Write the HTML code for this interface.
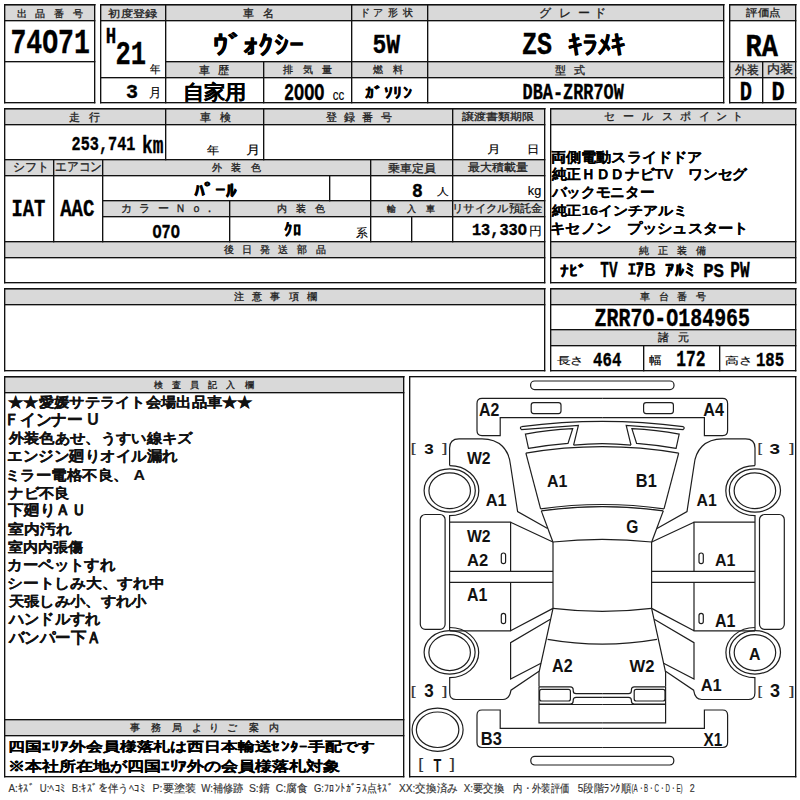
<!DOCTYPE html>
<html><head><meta charset="utf-8"><style>
html,body{margin:0;padding:0;background:#fff;width:800px;height:800px;overflow:hidden}
svg{display:block;font-family:"Liberation Sans",sans-serif}
</style></head><body>
<svg width="800" height="800" viewBox="0 0 800 800">
<g>
<rect x="4" y="4" width="90" height="16" fill="#d9d9d9"/>
<rect x="100" y="4" width="623" height="16" fill="#d9d9d9"/>
<rect x="165" y="61" width="558" height="16" fill="#d9d9d9"/>
<rect x="729" y="4" width="66" height="16" fill="#d9d9d9"/>
<rect x="729" y="61" width="66" height="16" fill="#d9d9d9"/>
<rect x="4" y="108" width="540" height="16" fill="#d9d9d9"/>
<rect x="4" y="159" width="540" height="16" fill="#d9d9d9"/>
<rect x="102" y="200" width="442" height="16" fill="#d9d9d9"/>
<rect x="4" y="241" width="540" height="16" fill="#d9d9d9"/>
<rect x="550" y="108" width="245" height="16" fill="#d9d9d9"/>
<rect x="550" y="241" width="245" height="16" fill="#d9d9d9"/>
<rect x="4" y="288" width="540" height="16" fill="#d9d9d9"/>
<rect x="550" y="288" width="245" height="16" fill="#d9d9d9"/>
<rect x="550" y="329" width="245" height="16" fill="#d9d9d9"/>
<rect x="4" y="376" width="399" height="16" fill="#d9d9d9"/>
<rect x="4" y="719" width="399" height="16" fill="#d9d9d9"/>
<rect x="4" y="4" width="91.35" height="1.35" fill="#111"/>
<rect x="4" y="102" width="91.35" height="1.35" fill="#111"/>
<rect x="4" y="4" width="91.35" height="1.35" fill="#111"/>
<rect x="4" y="20" width="91.35" height="1.35" fill="#111"/>
<rect x="4" y="61" width="91.35" height="1.35" fill="#111"/>
<rect x="100" y="4" width="624.35" height="1.35" fill="#111"/>
<rect x="100" y="102" width="624.35" height="1.35" fill="#111"/>
<rect x="100" y="4" width="624.35" height="1.35" fill="#111"/>
<rect x="100" y="20" width="624.35" height="1.35" fill="#111"/>
<rect x="165" y="61" width="559.35" height="1.35" fill="#111"/>
<rect x="165" y="77" width="559.35" height="1.35" fill="#111"/>
<rect x="100" y="77" width="66.35" height="1.35" fill="#111"/>
<rect x="729" y="4" width="67.35" height="1.35" fill="#111"/>
<rect x="729" y="102" width="67.35" height="1.35" fill="#111"/>
<rect x="729" y="4" width="67.35" height="1.35" fill="#111"/>
<rect x="729" y="20" width="67.35" height="1.35" fill="#111"/>
<rect x="729" y="61" width="67.35" height="1.35" fill="#111"/>
<rect x="729" y="77" width="67.35" height="1.35" fill="#111"/>
<rect x="4" y="108" width="541.35" height="1.35" fill="#111"/>
<rect x="4" y="282" width="541.35" height="1.35" fill="#111"/>
<rect x="4" y="108" width="541.35" height="1.35" fill="#111"/>
<rect x="4" y="124" width="541.35" height="1.35" fill="#111"/>
<rect x="4" y="159" width="541.35" height="1.35" fill="#111"/>
<rect x="4" y="175" width="541.35" height="1.35" fill="#111"/>
<rect x="102" y="200" width="443.35" height="1.35" fill="#111"/>
<rect x="102" y="216" width="443.35" height="1.35" fill="#111"/>
<rect x="4" y="241" width="541.35" height="1.35" fill="#111"/>
<rect x="4" y="257" width="541.35" height="1.35" fill="#111"/>
<rect x="550" y="108" width="246.35" height="1.35" fill="#111"/>
<rect x="550" y="282" width="246.35" height="1.35" fill="#111"/>
<rect x="550" y="108" width="246.35" height="1.35" fill="#111"/>
<rect x="550" y="124" width="246.35" height="1.35" fill="#111"/>
<rect x="550" y="241" width="246.35" height="1.35" fill="#111"/>
<rect x="550" y="257" width="246.35" height="1.35" fill="#111"/>
<rect x="4" y="288" width="541.35" height="1.35" fill="#111"/>
<rect x="4" y="370" width="541.35" height="1.35" fill="#111"/>
<rect x="4" y="288" width="541.35" height="1.35" fill="#111"/>
<rect x="4" y="304" width="541.35" height="1.35" fill="#111"/>
<rect x="550" y="288" width="246.35" height="1.35" fill="#111"/>
<rect x="550" y="370" width="246.35" height="1.35" fill="#111"/>
<rect x="550" y="288" width="246.35" height="1.35" fill="#111"/>
<rect x="550" y="304" width="246.35" height="1.35" fill="#111"/>
<rect x="550" y="329" width="246.35" height="1.35" fill="#111"/>
<rect x="550" y="345" width="246.35" height="1.35" fill="#111"/>
<rect x="4" y="376" width="400.35" height="1.35" fill="#111"/>
<rect x="4" y="776" width="400.35" height="1.35" fill="#111"/>
<rect x="4" y="376" width="400.35" height="1.35" fill="#111"/>
<rect x="4" y="392" width="400.35" height="1.35" fill="#111"/>
<rect x="4" y="719" width="400.35" height="1.35" fill="#111"/>
<rect x="4" y="735" width="400.35" height="1.35" fill="#111"/>
<rect x="409" y="376" width="387.35" height="1.35" fill="#111"/>
<rect x="409" y="776" width="387.35" height="1.35" fill="#111"/>
<rect x="4" y="4" width="1.35" height="99.35" fill="#111"/>
<rect x="94" y="4" width="1.35" height="99.35" fill="#111"/>
<rect x="100" y="4" width="1.35" height="99.35" fill="#111"/>
<rect x="723" y="4" width="1.35" height="99.35" fill="#111"/>
<rect x="165" y="4" width="1.35" height="99.35" fill="#111"/>
<rect x="351" y="4" width="1.35" height="99.35" fill="#111"/>
<rect x="427" y="4" width="1.35" height="99.35" fill="#111"/>
<rect x="263" y="61" width="1.35" height="42.35" fill="#111"/>
<rect x="729" y="4" width="1.35" height="99.35" fill="#111"/>
<rect x="795" y="4" width="1.35" height="99.35" fill="#111"/>
<rect x="762" y="61" width="1.35" height="42.35" fill="#111"/>
<rect x="4" y="108" width="1.35" height="175.35" fill="#111"/>
<rect x="544" y="108" width="1.35" height="175.35" fill="#111"/>
<rect x="165" y="108" width="1.35" height="52.35" fill="#111"/>
<rect x="263" y="108" width="1.35" height="52.35" fill="#111"/>
<rect x="452" y="108" width="1.35" height="134.35" fill="#111"/>
<rect x="53" y="159" width="1.35" height="83.35" fill="#111"/>
<rect x="102" y="159" width="1.35" height="83.35" fill="#111"/>
<rect x="370" y="159" width="1.35" height="83.35" fill="#111"/>
<rect x="329" y="175" width="1.35" height="26.35" fill="#111"/>
<rect x="229" y="200" width="1.35" height="42.35" fill="#111"/>
<rect x="411" y="216" width="1.35" height="26.35" fill="#111"/>
<rect x="550" y="108" width="1.35" height="175.35" fill="#111"/>
<rect x="795" y="108" width="1.35" height="175.35" fill="#111"/>
<rect x="4" y="288" width="1.35" height="83.35" fill="#111"/>
<rect x="544" y="288" width="1.35" height="83.35" fill="#111"/>
<rect x="550" y="288" width="1.35" height="83.35" fill="#111"/>
<rect x="795" y="288" width="1.35" height="83.35" fill="#111"/>
<rect x="643" y="345" width="1.35" height="26.35" fill="#111"/>
<rect x="719" y="345" width="1.35" height="26.35" fill="#111"/>
<rect x="4" y="376" width="1.35" height="401.35" fill="#111"/>
<rect x="403" y="376" width="1.35" height="401.35" fill="#111"/>
<rect x="409" y="376" width="1.35" height="401.35" fill="#111"/>
<rect x="795" y="376" width="1.35" height="401.35" fill="#111"/>
</g>
<g fill="none" stroke="#1e1e1e" stroke-width="1.2">
<rect x="530.6" y="381" width="143.4" height="8.6" rx="4"/>
<path d="M 521.50,426.60 A 618.56 618.56 0 0 1 683.10,426.60"/>
<path d="M 573.60,445.20 A 258.20 258.20 0 0 1 631.00,445.20"/>
<path d="M 525.90,453.10 A 459.21 459.21 0 0 1 678.70,453.10"/>
<path d="M 540.60,508.80 A 444.81 444.81 0 0 1 664.00,508.80"/>
<path d="M 541.30,510.90 A 434.82 434.82 0 0 1 663.30,510.90"/>
<path d="M 552.90,542.00 A 453.27 453.27 0 0 1 651.70,542.00"/>
<path d="M 553.00,608.40 A 406.58 406.58 0 0 0 651.60,608.40"/>
<path d="M 547.60,639.30 A 320.66 320.66 0 0 0 657.00,639.30"/>
<rect x="530.8" y="756.3" width="143" height="8.7" rx="4"/>
<ellipse cx="437.6" cy="729.7" rx="25.5" ry="21.6"/>
<ellipse cx="437.6" cy="729.75" rx="21.25" ry="17.75"/>
<g id="lh">
<path d="M 602.3,398.4 H 482 Q 477,398.4 477,403.4 V 430.5 Q 477,435.6 482,435.6 H 500.2 V 417.6 H 602.3"/>
<rect x="531.2" y="402.6" width="29.8" height="11" rx="2.5"/>
<path d="M 521.5,426.6 Q 519.3,428.1 521.5,429.6 L 578.4,425.5 L 573.6,445.2"/>
<path d="M 525.4,434.1 Q 548,430 572.7,428.6 L 568,443.4 Q 548,445 528.5,448.4 Z"/>
<path d="M 525.9,453.1 L 540.6,508.8"/>
<path d="M 541.3,510.9 L 552.9,542"/>
<path d="M 553,542 V 608.4"/>
<path d="M 553,608.4 L 539,672.3 V 686.7"/>
<path d="M 539,686.9 H 570.3 Q 573.2,686.9 573.2,689.8 V 690.7 Q 573.2,693.6 576.1,693.6 H 602.3 M 602.3,697.4 H 576.1 Q 573.2,697.4 573.2,700.3 V 701.1 Q 573.2,704 570.3,704 H 539"/>
<rect x="539.6" y="689.4" width="30.8" height="11.6" rx="2"/>
<path d="M 539,686.9 V 722.8 H 602.3 M 539,704.5 H 602.3"/>
<path d="M 602.3,747.5 H 482 Q 477,747.5 477,742.5 V 715 Q 477,710 482,710 H 500.2 V 728.3 H 602.3"/>
<path d="M 449.6,465.6 V 448 Q 449.6,438.8 459,438.8 H 482 C 500,438.8 509,450 510.5,465 L 517.6,511.5 L 547.6,528.4"/>
<path d="M 449.6,465.7 A 29.2 25 0 0 1 449.6,515.7 V 630.4"/>
<ellipse cx="449.7" cy="490.5" rx="25.6" ry="21.6"/>
<ellipse cx="449.7" cy="490.7" rx="20.75" ry="17.9"/>
<rect x="420.3" y="514.5" width="24.8" height="114.8" rx="5"/>
<path d="M 449.6,522.2 H 510.6 V 571.3 M 510.6,522.2 L 552.9,542"/>
<path d="M 449.6,571.3 H 553 M 449.6,582.3 H 553"/>
<path d="M 510.6,582.3 V 630.8 H 449.6 M 510.6,630.8 L 553,608.4"/>
<path d="M 550.4,619.2 L 510.6,642.7 V 679.1 L 541,663.3"/>
<path d="M 449.7,627.5 A 29 25.1 0 0 1 449.7,677.7 V 693 Q 449.7,699.5 456,699.5 H 503 Q 509.5,699.5 511,690.2 L 539,671.2"/>
<ellipse cx="449.6" cy="652.3" rx="25.5" ry="21.75"/>
<ellipse cx="449.65" cy="652.6" rx="20.75" ry="18"/>
<rect x="501.3" y="553" width="4.3" height="10.7" rx="2.1"/>
<rect x="501.3" y="613.3" width="4.3" height="10.3" rx="2.1"/>
</g>
<use href="#lh" transform="translate(1204.60,0) scale(-1,1)"/>
</g>
<text x="16.92" y="16.75" font-size="9.64" stroke="#1e1e1e" stroke-width="0.3" fill="#1e1e1e">出</text>
<text x="34.93" y="16.75" font-size="9.64" stroke="#1e1e1e" stroke-width="0.3" fill="#1e1e1e">品</text>
<text x="53.99" y="16.75" font-size="9.64" stroke="#1e1e1e" stroke-width="0.3" fill="#1e1e1e">番</text>
<text x="73.25" y="16.75" font-size="9.64" stroke="#1e1e1e" stroke-width="0.3" fill="#1e1e1e">号</text>
<text x="10.41" y="53.40" font-size="34.93" font-weight="bold" stroke="#000" stroke-width="0.35" style="font-family:'Liberation Mono',monospace" fill="#000" textLength="79.41" lengthAdjust="spacingAndGlyphs">74O71</text>
<text x="108.51" y="17.23" font-size="9.79" stroke="#1e1e1e" stroke-width="0.3" fill="#1e1e1e" textLength="48.86" lengthAdjust="spacingAndGlyphs">初度登録</text>
<text x="105.78" y="43.00" font-size="22.73" font-weight="bold" stroke="#000" stroke-width="0.35" style="font-family:'Liberation Mono',monospace" fill="#000" textLength="10.44" lengthAdjust="spacingAndGlyphs">H</text>
<text x="115.47" y="64.00" font-size="32.84" font-weight="bold" stroke="#000" stroke-width="0.35" style="font-family:'Liberation Mono',monospace" fill="#000" textLength="30.55" lengthAdjust="spacingAndGlyphs">21</text>
<text x="149.89" y="72.70" font-size="10.87" stroke="#000" stroke-width="0.15" fill="#000" textLength="10.53" lengthAdjust="spacingAndGlyphs">年</text>
<text x="126.00" y="97.79" font-size="20.59" font-weight="bold" stroke="#000" stroke-width="0.35" style="font-family:'Liberation Mono',monospace" fill="#000" textLength="12.00" lengthAdjust="spacingAndGlyphs">3</text>
<text x="149.38" y="96.50" font-size="12.50" stroke="#000" stroke-width="0.15" fill="#000" textLength="12.33" lengthAdjust="spacingAndGlyphs">月</text>
<text x="243.29" y="17.12" font-size="10.64" stroke="#1e1e1e" stroke-width="0.3" fill="#1e1e1e">車</text>
<text x="263.06" y="17.12" font-size="10.64" stroke="#1e1e1e" stroke-width="0.3" fill="#1e1e1e">名</text>
<text x="212.88" y="54.05" font-size="26.37" font-weight="bold" stroke="#000" stroke-width="0.15" fill="#000" textLength="91.24" lengthAdjust="spacingAndGlyphs">ｳﾞｫｸｼｰ</text>
<text x="359.99" y="15.85" font-size="10.31" stroke="#1e1e1e" stroke-width="0.3" fill="#1e1e1e">ド</text>
<text x="373.26" y="15.85" font-size="10.31" stroke="#1e1e1e" stroke-width="0.3" fill="#1e1e1e">ア</text>
<text x="387.77" y="15.85" font-size="10.31" stroke="#1e1e1e" stroke-width="0.3" fill="#1e1e1e">形</text>
<text x="403.10" y="15.85" font-size="10.31" stroke="#1e1e1e" stroke-width="0.3" fill="#1e1e1e">状</text>
<text x="372.55" y="52.81" font-size="28.51" font-weight="bold" stroke="#000" stroke-width="0.35" style="font-family:'Liberation Mono',monospace" fill="#000" textLength="27.66" lengthAdjust="spacingAndGlyphs">5W</text>
<text x="538.85" y="16.50" font-size="11.54" stroke="#1e1e1e" stroke-width="0.3" fill="#1e1e1e">グ</text>
<text x="558.63" y="16.50" font-size="11.54" stroke="#1e1e1e" stroke-width="0.3" fill="#1e1e1e">レ</text>
<text x="577.62" y="16.50" font-size="11.54" stroke="#1e1e1e" stroke-width="0.3" fill="#1e1e1e">ー</text>
<text x="593.71" y="16.50" font-size="11.54" stroke="#1e1e1e" stroke-width="0.3" fill="#1e1e1e">ド</text>
<text x="522.00" y="54.19" font-size="30.51" font-weight="bold" stroke="#000" stroke-width="0.35" style="font-family:'Liberation Mono',monospace" fill="#000" textLength="30.01" lengthAdjust="spacingAndGlyphs">ZS</text>
<text x="568.17" y="53.93" font-size="26.18" font-weight="bold" stroke="#000" stroke-width="0.15" fill="#000" textLength="57.69" lengthAdjust="spacingAndGlyphs">ｷﾗﾒｷ</text>
<text x="746.14" y="16.38" font-size="10.10" stroke="#1e1e1e" stroke-width="0.3" fill="#1e1e1e" textLength="34.44" lengthAdjust="spacingAndGlyphs">評価点</text>
<text x="745.61" y="56.00" font-size="31.82" font-weight="bold" stroke="#000" stroke-width="0.35" style="font-family:'Liberation Mono',monospace" fill="#000" textLength="32.40" lengthAdjust="spacingAndGlyphs">RA</text>
<text x="199.18" y="73.69" font-size="10.96" stroke="#1e1e1e" stroke-width="0.3" fill="#1e1e1e">車</text>
<text x="217.87" y="73.69" font-size="10.96" stroke="#1e1e1e" stroke-width="0.3" fill="#1e1e1e">歴</text>
<text x="283.30" y="73.00" font-size="10.00" stroke="#1e1e1e" stroke-width="0.3" fill="#1e1e1e">排</text>
<text x="302.50" y="73.00" font-size="10.00" stroke="#1e1e1e" stroke-width="0.3" fill="#1e1e1e">気</text>
<text x="321.60" y="73.00" font-size="10.00" stroke="#1e1e1e" stroke-width="0.3" fill="#1e1e1e">量</text>
<text x="372.50" y="73.09" font-size="10.11" stroke="#1e1e1e" stroke-width="0.3" fill="#1e1e1e">燃</text>
<text x="393.00" y="73.09" font-size="10.11" stroke="#1e1e1e" stroke-width="0.3" fill="#1e1e1e">料</text>
<text x="554.78" y="73.66" font-size="11.17" stroke="#1e1e1e" stroke-width="0.3" fill="#1e1e1e">型</text>
<text x="574.28" y="73.66" font-size="11.17" stroke="#1e1e1e" stroke-width="0.3" fill="#1e1e1e">式</text>
<text x="734.88" y="73.60" font-size="11.70" stroke="#1e1e1e" stroke-width="0.3" fill="#1e1e1e" textLength="23.71" lengthAdjust="spacingAndGlyphs">外装</text>
<text x="766.95" y="73.49" font-size="11.58" stroke="#1e1e1e" stroke-width="0.3" fill="#1e1e1e" textLength="26.20" lengthAdjust="spacingAndGlyphs">内装</text>
<text x="182.75" y="98.86" font-size="19.61" font-weight="bold" stroke="#000" stroke-width="0.15" fill="#000" textLength="63.78" lengthAdjust="spacingAndGlyphs">自家用</text>
<text x="283.99" y="99.67" font-size="23.38" font-weight="bold" stroke="#000" stroke-width="0.35" style="font-family:'Liberation Mono',monospace" fill="#000" textLength="40.39" lengthAdjust="spacingAndGlyphs">2OOO</text>
<text x="332.84" y="99.75" font-size="15.45" stroke="#000" stroke-width="0.15" fill="#000" textLength="11.51" lengthAdjust="spacingAndGlyphs">cc</text>
<text x="364.82" y="97.74" font-size="15.16" font-weight="bold" stroke="#000" stroke-width="0.15" fill="#000" textLength="47.56" lengthAdjust="spacingAndGlyphs">ｶﾞｿﾘﾝ</text>
<text x="522.57" y="99.28" font-size="22.06" font-weight="bold" stroke="#000" stroke-width="0.35" style="font-family:'Liberation Mono',monospace" fill="#000" textLength="101.20" lengthAdjust="spacingAndGlyphs">DBA-ZRR7OW</text>
<text x="739.82" y="100.00" font-size="27.27" font-weight="bold" stroke="#000" stroke-width="0.35" style="font-family:'Liberation Mono',monospace" fill="#000" textLength="12.25" lengthAdjust="spacingAndGlyphs">D</text>
<text x="771.46" y="100.00" font-size="27.27" font-weight="bold" stroke="#000" stroke-width="0.35" style="font-family:'Liberation Mono',monospace" fill="#000" textLength="13.17" lengthAdjust="spacingAndGlyphs">D</text>
<text x="68.86" y="121.06" font-size="11.05" stroke="#1e1e1e" stroke-width="0.3" fill="#1e1e1e">走</text>
<text x="89.03" y="121.06" font-size="11.05" stroke="#1e1e1e" stroke-width="0.3" fill="#1e1e1e">行</text>
<text x="71.59" y="149.74" font-size="19.76" font-weight="bold" stroke="#000" stroke-width="0.35" style="font-family:'Liberation Mono',monospace" fill="#000" textLength="63.78" lengthAdjust="spacingAndGlyphs">253,741</text>
<text x="142.07" y="153.30" font-size="23.97" font-weight="bold" stroke="#000" stroke-width="0.35" style="font-family:'Liberation Mono',monospace" fill="#000" textLength="21.39" lengthAdjust="spacingAndGlyphs">km</text>
<text x="199.98" y="121.06" font-size="11.05" stroke="#1e1e1e" stroke-width="0.3" fill="#1e1e1e">車</text>
<text x="220.39" y="121.06" font-size="11.05" stroke="#1e1e1e" stroke-width="0.3" fill="#1e1e1e">検</text>
<text x="207.08" y="153.63" font-size="11.41" stroke="#000" stroke-width="0.15" fill="#000" textLength="12.16" lengthAdjust="spacingAndGlyphs">年</text>
<text x="246.03" y="153.57" font-size="11.93" stroke="#000" stroke-width="0.15" fill="#000" textLength="14.38" lengthAdjust="spacingAndGlyphs">月</text>
<text x="325.53" y="120.54" font-size="11.20" stroke="#1e1e1e" stroke-width="0.3" fill="#1e1e1e">登</text>
<text x="343.93" y="120.54" font-size="11.20" stroke="#1e1e1e" stroke-width="0.3" fill="#1e1e1e">録</text>
<text x="362.32" y="120.54" font-size="11.20" stroke="#1e1e1e" stroke-width="0.3" fill="#1e1e1e">番</text>
<text x="380.50" y="120.54" font-size="11.20" stroke="#1e1e1e" stroke-width="0.3" fill="#1e1e1e">号</text>
<text x="462.38" y="120.40" font-size="10.00" stroke="#1e1e1e" stroke-width="0.3" fill="#1e1e1e" textLength="71.85" lengthAdjust="spacingAndGlyphs">譲渡書類期限</text>
<text x="487.32" y="153.20" font-size="10.80" stroke="#000" stroke-width="0.15" fill="#000" textLength="13.70" lengthAdjust="spacingAndGlyphs">月</text>
<text x="526.90" y="153.20" font-size="10.80" stroke="#000" stroke-width="0.15" fill="#000" textLength="12.31" lengthAdjust="spacingAndGlyphs">日</text>
<text x="12.71" y="171.11" font-size="11.61" stroke="#1e1e1e" stroke-width="0.3" fill="#1e1e1e" textLength="35.83" lengthAdjust="spacingAndGlyphs">シフト</text>
<text x="55.20" y="171.47" font-size="12.83" stroke="#1e1e1e" stroke-width="0.3" fill="#1e1e1e" textLength="46.87" lengthAdjust="spacingAndGlyphs">エアコン</text>
<text x="211.65" y="171.26" font-size="10.37" stroke="#1e1e1e" stroke-width="0.3" fill="#1e1e1e">外</text>
<text x="231.22" y="171.26" font-size="10.37" stroke="#1e1e1e" stroke-width="0.3" fill="#1e1e1e">装</text>
<text x="250.59" y="171.26" font-size="10.37" stroke="#1e1e1e" stroke-width="0.3" fill="#1e1e1e">色</text>
<text x="388.27" y="171.95" font-size="11.25" stroke="#1e1e1e" stroke-width="0.3" fill="#1e1e1e" textLength="47.58" lengthAdjust="spacingAndGlyphs">乗車定員</text>
<text x="468.51" y="171.13" font-size="10.53" stroke="#1e1e1e" stroke-width="0.3" fill="#1e1e1e" textLength="59.97" lengthAdjust="spacingAndGlyphs">最大積載量</text>
<text x="11.49" y="216.30" font-size="23.94" font-weight="bold" stroke="#000" stroke-width="0.35" style="font-family:'Liberation Mono',monospace" fill="#000" textLength="33.88" lengthAdjust="spacingAndGlyphs">IAT</text>
<text x="60.20" y="216.07" font-size="23.24" font-weight="bold" stroke="#000" stroke-width="0.35" style="font-family:'Liberation Mono',monospace" fill="#000" textLength="34.18" lengthAdjust="spacingAndGlyphs">AAC</text>
<text x="193.61" y="197.38" font-size="18.31" font-weight="bold" stroke="#000" stroke-width="0.15" fill="#000" textLength="42.86" lengthAdjust="spacingAndGlyphs">ﾊﾟｰﾙ</text>
<text x="412.10" y="196.79" font-size="20.59" font-weight="bold" stroke="#000" stroke-width="0.35" style="font-family:'Liberation Mono',monospace" fill="#000" textLength="10.80" lengthAdjust="spacingAndGlyphs">8</text>
<text x="436.77" y="195.48" font-size="10.11" stroke="#000" stroke-width="0.15" fill="#000" textLength="11.70" lengthAdjust="spacingAndGlyphs">人</text>
<text x="527.86" y="194.99" font-size="11.97" stroke="#000" stroke-width="0.15" fill="#000" textLength="13.49" lengthAdjust="spacingAndGlyphs">kg</text>
<text x="120.82" y="211.60" font-size="10.86" stroke="#1e1e1e" stroke-width="0.3" fill="#1e1e1e">カ</text>
<text x="139.07" y="211.60" font-size="10.86" stroke="#1e1e1e" stroke-width="0.3" fill="#1e1e1e">ラ</text>
<text x="157.54" y="211.60" font-size="10.86" stroke="#1e1e1e" stroke-width="0.3" fill="#1e1e1e">ー</text>
<text x="175.02" y="211.60" font-size="10.86" stroke="#1e1e1e" stroke-width="0.3" fill="#1e1e1e">Ｎ</text>
<text x="190.56" y="211.60" font-size="10.86" stroke="#1e1e1e" stroke-width="0.3" fill="#1e1e1e">ｏ</text>
<text x="203.92" y="211.60" font-size="10.86" stroke="#1e1e1e" stroke-width="0.3" fill="#1e1e1e">．</text>
<text x="276.72" y="212.48" font-size="9.74" stroke="#1e1e1e" stroke-width="0.3" fill="#1e1e1e">内</text>
<text x="295.55" y="212.48" font-size="9.74" stroke="#1e1e1e" stroke-width="0.3" fill="#1e1e1e">装</text>
<text x="314.96" y="212.48" font-size="9.74" stroke="#1e1e1e" stroke-width="0.3" fill="#1e1e1e">色</text>
<text x="387.31" y="212.33" font-size="9.44" stroke="#1e1e1e" stroke-width="0.3" fill="#1e1e1e">輸</text>
<text x="406.62" y="212.33" font-size="9.44" stroke="#1e1e1e" stroke-width="0.3" fill="#1e1e1e">入</text>
<text x="425.94" y="212.33" font-size="9.44" stroke="#1e1e1e" stroke-width="0.3" fill="#1e1e1e">車</text>
<text x="451.93" y="211.93" font-size="11.36" stroke="#1e1e1e" stroke-width="0.3" fill="#1e1e1e" textLength="90.63" lengthAdjust="spacingAndGlyphs">リサイクル預託金</text>
<text x="152.39" y="237.79" font-size="20.59" font-weight="bold" stroke="#000" stroke-width="0.35" style="font-family:'Liberation Mono',monospace" fill="#000" textLength="27.42" lengthAdjust="spacingAndGlyphs">O7O</text>
<text x="283.80" y="236.28" font-size="17.44" font-weight="bold" stroke="#000" stroke-width="0.15" fill="#000" textLength="17.42" lengthAdjust="spacingAndGlyphs">ｸﾛ</text>
<text x="355.89" y="237.23" font-size="11.72" stroke="#000" stroke-width="0.15" fill="#000" textLength="11.84" lengthAdjust="spacingAndGlyphs">系</text>
<text x="471.93" y="234.98" font-size="16.76" font-weight="bold" stroke="#000" stroke-width="0.35" style="font-family:'Liberation Mono',monospace" fill="#000" textLength="54.94" lengthAdjust="spacingAndGlyphs">13,33O</text>
<text x="529.22" y="235.45" font-size="11.94" stroke="#000" stroke-width="0.15" fill="#000" textLength="12.82" lengthAdjust="spacingAndGlyphs">円</text>
<text x="224.40" y="253.06" font-size="10.31" stroke="#1e1e1e" stroke-width="0.3" fill="#1e1e1e">後</text>
<text x="241.96" y="253.06" font-size="10.31" stroke="#1e1e1e" stroke-width="0.3" fill="#1e1e1e">日</text>
<text x="259.52" y="253.06" font-size="10.31" stroke="#1e1e1e" stroke-width="0.3" fill="#1e1e1e">発</text>
<text x="278.32" y="253.06" font-size="10.31" stroke="#1e1e1e" stroke-width="0.3" fill="#1e1e1e">送</text>
<text x="297.12" y="253.06" font-size="10.31" stroke="#1e1e1e" stroke-width="0.3" fill="#1e1e1e">部</text>
<text x="315.61" y="253.06" font-size="10.31" stroke="#1e1e1e" stroke-width="0.3" fill="#1e1e1e">品</text>
<text x="233.56" y="300.48" font-size="9.50" stroke="#1e1e1e" stroke-width="0.3" fill="#1e1e1e">注</text>
<text x="252.00" y="300.48" font-size="9.50" stroke="#1e1e1e" stroke-width="0.3" fill="#1e1e1e">意</text>
<text x="270.35" y="300.48" font-size="9.50" stroke="#1e1e1e" stroke-width="0.3" fill="#1e1e1e">事</text>
<text x="288.79" y="300.48" font-size="9.50" stroke="#1e1e1e" stroke-width="0.3" fill="#1e1e1e">項</text>
<text x="307.13" y="300.48" font-size="9.50" stroke="#1e1e1e" stroke-width="0.3" fill="#1e1e1e">欄</text>
<text x="604.36" y="120.21" font-size="10.67" stroke="#1e1e1e" stroke-width="0.3" fill="#1e1e1e">セ</text>
<text x="622.81" y="120.21" font-size="10.67" stroke="#1e1e1e" stroke-width="0.3" fill="#1e1e1e">ー</text>
<text x="642.00" y="120.21" font-size="10.67" stroke="#1e1e1e" stroke-width="0.3" fill="#1e1e1e">ル</text>
<text x="661.52" y="120.21" font-size="10.67" stroke="#1e1e1e" stroke-width="0.3" fill="#1e1e1e">ス</text>
<text x="680.18" y="120.21" font-size="10.67" stroke="#1e1e1e" stroke-width="0.3" fill="#1e1e1e">ポ</text>
<text x="699.05" y="120.21" font-size="10.67" stroke="#1e1e1e" stroke-width="0.3" fill="#1e1e1e">イ</text>
<text x="716.33" y="120.21" font-size="10.67" stroke="#1e1e1e" stroke-width="0.3" fill="#1e1e1e">ン</text>
<text x="731.89" y="120.21" font-size="10.67" stroke="#1e1e1e" stroke-width="0.3" fill="#1e1e1e">ト</text>
<text x="550.65" y="161.68" font-size="13.67" font-weight="bold" stroke="#000" stroke-width="0.15" fill="#000" textLength="151.75" lengthAdjust="spacingAndGlyphs">両側電動スライドドア</text>
<text x="551.55" y="179.38" font-size="14.12" font-weight="bold" stroke="#000" stroke-width="0.15" fill="#000" textLength="195.53" lengthAdjust="spacingAndGlyphs">純正ＨＤＤナビTV　ワンセグ</text>
<text x="551.83" y="196.82" font-size="13.66" font-weight="bold" stroke="#000" stroke-width="0.15" fill="#000" textLength="102.58" lengthAdjust="spacingAndGlyphs">バックモニター</text>
<text x="551.55" y="214.62" font-size="13.20" font-weight="bold" stroke="#000" stroke-width="0.15" fill="#000" textLength="136.17" lengthAdjust="spacingAndGlyphs">純正16インチアルミ</text>
<text x="550.20" y="233.46" font-size="14.02" font-weight="bold" stroke="#000" stroke-width="0.15" fill="#000" textLength="198.45" lengthAdjust="spacingAndGlyphs">キセノン　プッシュスタート</text>
<text x="638.90" y="253.50" font-size="10.00" stroke="#1e1e1e" stroke-width="0.3" fill="#1e1e1e">純</text>
<text x="658.20" y="253.50" font-size="10.00" stroke="#1e1e1e" stroke-width="0.3" fill="#1e1e1e">正</text>
<text x="677.20" y="253.50" font-size="10.00" stroke="#1e1e1e" stroke-width="0.3" fill="#1e1e1e">装</text>
<text x="696.40" y="253.50" font-size="10.00" stroke="#1e1e1e" stroke-width="0.3" fill="#1e1e1e">備</text>
<text x="560.48" y="276.61" font-size="16.44" font-weight="bold" stroke="#000" stroke-width="0.15" fill="#000" textLength="26.07" lengthAdjust="spacingAndGlyphs">ﾅﾋﾞ</text>
<text x="600.37" y="277.10" font-size="21.67" font-weight="bold" stroke="#000" stroke-width="0.35" style="font-family:'Liberation Mono',monospace" fill="#000" textLength="17.34" lengthAdjust="spacingAndGlyphs">TV</text>
<text x="628.02" y="275.97" font-size="18.82" font-weight="bold" stroke="#000" stroke-width="0.15" fill="#000" textLength="27.66" lengthAdjust="spacingAndGlyphs">ｴｱB</text>
<text x="665.22" y="276.07" font-size="17.23" font-weight="bold" stroke="#000" stroke-width="0.15" fill="#000" textLength="29.14" lengthAdjust="spacingAndGlyphs">ｱﾙﾐ</text>
<text x="703.18" y="276.89" font-size="21.03" font-weight="bold" stroke="#000" stroke-width="0.35" style="font-family:'Liberation Mono',monospace" fill="#000" textLength="20.84" lengthAdjust="spacingAndGlyphs">PS</text>
<text x="730.37" y="277.10" font-size="21.67" font-weight="bold" stroke="#000" stroke-width="0.35" style="font-family:'Liberation Mono',monospace" fill="#000" textLength="19.33" lengthAdjust="spacingAndGlyphs">PW</text>
<text x="640.40" y="300.30" font-size="10.00" stroke="#1e1e1e" stroke-width="0.3" fill="#1e1e1e">車</text>
<text x="658.93" y="300.30" font-size="10.00" stroke="#1e1e1e" stroke-width="0.3" fill="#1e1e1e">台</text>
<text x="677.37" y="300.30" font-size="10.00" stroke="#1e1e1e" stroke-width="0.3" fill="#1e1e1e">番</text>
<text x="696.40" y="300.30" font-size="10.00" stroke="#1e1e1e" stroke-width="0.3" fill="#1e1e1e">号</text>
<text x="594.60" y="326.14" font-size="25.74" font-weight="bold" stroke="#000" stroke-width="0.35" style="font-family:'Liberation Mono',monospace" fill="#000" textLength="155.42" lengthAdjust="spacingAndGlyphs">ZRR7O-O184965</text>
<text x="658.09" y="341.02" font-size="10.62" stroke="#1e1e1e" stroke-width="0.3" fill="#1e1e1e">諸</text>
<text x="678.31" y="341.02" font-size="10.62" stroke="#1e1e1e" stroke-width="0.3" fill="#1e1e1e">元</text>
<text x="556.63" y="364.04" font-size="10.43" stroke="#000" stroke-width="0.15" fill="#000" textLength="27.50" lengthAdjust="spacingAndGlyphs">長さ</text>
<text x="593.03" y="366.09" font-size="21.03" font-weight="bold" stroke="#000" stroke-width="0.35" style="font-family:'Liberation Mono',monospace" fill="#000" textLength="28.35" lengthAdjust="spacingAndGlyphs">464</text>
<text x="649.09" y="364.33" font-size="11.29" stroke="#000" stroke-width="0.15" fill="#000" textLength="12.67" lengthAdjust="spacingAndGlyphs">幅</text>
<text x="676.16" y="366.30" font-size="21.34" font-weight="bold" stroke="#000" stroke-width="0.35" style="font-family:'Liberation Mono',monospace" fill="#000" textLength="29.21" lengthAdjust="spacingAndGlyphs">172</text>
<text x="724.92" y="364.13" font-size="9.80" stroke="#000" stroke-width="0.15" fill="#000" textLength="27.63" lengthAdjust="spacingAndGlyphs">高さ</text>
<text x="755.90" y="366.09" font-size="21.03" font-weight="bold" stroke="#000" stroke-width="0.35" style="font-family:'Liberation Mono',monospace" fill="#000" textLength="28.29" lengthAdjust="spacingAndGlyphs">185</text>
<text x="153.51" y="387.71" font-size="9.29" stroke="#1e1e1e" stroke-width="0.3" fill="#1e1e1e">検</text>
<text x="171.71" y="387.71" font-size="9.29" stroke="#1e1e1e" stroke-width="0.3" fill="#1e1e1e">査</text>
<text x="189.63" y="387.71" font-size="9.29" stroke="#1e1e1e" stroke-width="0.3" fill="#1e1e1e">員</text>
<text x="208.01" y="387.71" font-size="9.29" stroke="#1e1e1e" stroke-width="0.3" fill="#1e1e1e">記</text>
<text x="226.49" y="387.71" font-size="9.29" stroke="#1e1e1e" stroke-width="0.3" fill="#1e1e1e">入</text>
<text x="244.88" y="387.71" font-size="9.29" stroke="#1e1e1e" stroke-width="0.3" fill="#1e1e1e">欄</text>
<text x="8.10" y="406.76" font-size="14.22" font-weight="bold" stroke="#111" stroke-width="0.15" fill="#111" textLength="244.61" lengthAdjust="spacingAndGlyphs">★★愛媛サテライト会場出品車★★</text>
<text x="4.18" y="424.92" font-size="16.11" font-weight="bold" stroke="#111" stroke-width="0.15" fill="#111" textLength="94.65" lengthAdjust="spacingAndGlyphs">Ｆインナー U</text>
<text x="8.70" y="442.60" font-size="13.81" font-weight="bold" stroke="#111" stroke-width="0.15" fill="#111" textLength="184.14" lengthAdjust="spacingAndGlyphs">外装色あせ、うすい線キズ</text>
<text x="7.49" y="461.05" font-size="14.50" font-weight="bold" stroke="#111" stroke-width="0.15" fill="#111" textLength="170.17" lengthAdjust="spacingAndGlyphs">エンジン廻りオイル漏れ</text>
<text x="5.00" y="479.67" font-size="14.36" font-weight="bold" stroke="#111" stroke-width="0.15" fill="#111" textLength="139.87" lengthAdjust="spacingAndGlyphs">ミラー電格不良、 A</text>
<text x="8.09" y="497.83" font-size="14.36" font-weight="bold" stroke="#111" stroke-width="0.15" fill="#111" textLength="61.72" lengthAdjust="spacingAndGlyphs">ナビ不良</text>
<text x="8.40" y="515.45" font-size="14.95" font-weight="bold" stroke="#111" stroke-width="0.15" fill="#111" textLength="78.19" lengthAdjust="spacingAndGlyphs">下廻りＡＵ</text>
<text x="8.24" y="534.17" font-size="14.22" font-weight="bold" stroke="#111" stroke-width="0.15" fill="#111" textLength="63.13" lengthAdjust="spacingAndGlyphs">室内汚れ</text>
<text x="8.25" y="552.33" font-size="14.22" font-weight="bold" stroke="#111" stroke-width="0.15" fill="#111" textLength="74.75" lengthAdjust="spacingAndGlyphs">室内内張傷</text>
<text x="7.49" y="569.63" font-size="14.95" font-weight="bold" stroke="#111" stroke-width="0.15" fill="#111" textLength="107.66" lengthAdjust="spacingAndGlyphs">カーペットすれ</text>
<text x="7.16" y="587.99" font-size="13.94" font-weight="bold" stroke="#111" stroke-width="0.15" fill="#111" textLength="157.41" lengthAdjust="spacingAndGlyphs">シートしみ大、すれ中</text>
<text x="8.55" y="606.15" font-size="13.94" font-weight="bold" stroke="#111" stroke-width="0.15" fill="#111" textLength="138.10" lengthAdjust="spacingAndGlyphs">天張しみ小、すれ小</text>
<text x="9.00" y="624.11" font-size="14.95" font-weight="bold" stroke="#111" stroke-width="0.15" fill="#111" textLength="91.05" lengthAdjust="spacingAndGlyphs">ハンドルすれ</text>
<text x="8.86" y="643.03" font-size="15.93" font-weight="bold" stroke="#111" stroke-width="0.15" fill="#111" textLength="92.86" lengthAdjust="spacingAndGlyphs">バンパー下Ａ</text>
<text x="130.39" y="731.34" font-size="10.39" stroke="#1e1e1e" stroke-width="0.3" fill="#1e1e1e">事</text>
<text x="151.49" y="731.34" font-size="10.39" stroke="#1e1e1e" stroke-width="0.3" fill="#1e1e1e">務</text>
<text x="172.38" y="731.34" font-size="10.39" stroke="#1e1e1e" stroke-width="0.3" fill="#1e1e1e">局</text>
<text x="192.03" y="731.34" font-size="10.39" stroke="#1e1e1e" stroke-width="0.3" fill="#1e1e1e">よ</text>
<text x="209.38" y="731.34" font-size="10.39" stroke="#1e1e1e" stroke-width="0.3" fill="#1e1e1e">り</text>
<text x="227.36" y="731.34" font-size="10.39" stroke="#1e1e1e" stroke-width="0.3" fill="#1e1e1e">ご</text>
<text x="248.98" y="731.34" font-size="10.39" stroke="#1e1e1e" stroke-width="0.3" fill="#1e1e1e">案</text>
<text x="269.15" y="731.34" font-size="10.39" stroke="#1e1e1e" stroke-width="0.3" fill="#1e1e1e">内</text>
<text x="8.30" y="751.13" font-size="13.10" font-weight="bold" stroke="#000" stroke-width="0.15" fill="#000" textLength="366.89" lengthAdjust="spacingAndGlyphs">四国ｴﾘｱ外会員様落札は西日本輸送ｾﾝﾀｰ手配です</text>
<text x="7.79" y="770.56" font-size="13.57" font-weight="bold" stroke="#000" stroke-width="0.15" fill="#000" textLength="332.55" lengthAdjust="spacingAndGlyphs">※本社所在地が四国ｴﾘｱ外の会員様落札対象</text>
<text x="8.40" y="791.90" font-size="10.50" stroke="#333" stroke-width="0.15" fill="#333" textLength="26.31" lengthAdjust="spacingAndGlyphs">A:ｷｽﾞ</text>
<text x="39.77" y="791.90" font-size="10.50" stroke="#333" stroke-width="0.15" fill="#333" textLength="26.06" lengthAdjust="spacingAndGlyphs">U:ﾍｺﾐ</text>
<text x="71.86" y="791.90" font-size="10.50" stroke="#333" stroke-width="0.15" fill="#333" textLength="73.53" lengthAdjust="spacingAndGlyphs">B:ｷｽﾞを伴うﾍｺﾐ</text>
<text x="152.52" y="791.90" font-size="10.50" stroke="#333" stroke-width="0.15" fill="#333" textLength="43.49" lengthAdjust="spacingAndGlyphs">P:要塗装</text>
<text x="201.20" y="791.90" font-size="10.50" stroke="#333" stroke-width="0.15" fill="#333" textLength="42.14" lengthAdjust="spacingAndGlyphs">W:補修跡</text>
<text x="248.97" y="791.90" font-size="10.50" stroke="#333" stroke-width="0.15" fill="#333" textLength="20.60" lengthAdjust="spacingAndGlyphs">S:錆</text>
<text x="275.87" y="791.90" font-size="10.50" stroke="#333" stroke-width="0.15" fill="#333" textLength="31.76" lengthAdjust="spacingAndGlyphs">C:腐食</text>
<text x="313.98" y="791.90" font-size="10.50" stroke="#333" stroke-width="0.15" fill="#333" textLength="79.18" lengthAdjust="spacingAndGlyphs">G:ﾌﾛﾝﾄｶﾞﾗｽ点ｷｽﾞ</text>
<text x="398.99" y="791.90" font-size="10.50" stroke="#333" stroke-width="0.15" fill="#333" textLength="58.76" lengthAdjust="spacingAndGlyphs">XX:交換済み</text>
<text x="463.69" y="791.90" font-size="10.50" stroke="#333" stroke-width="0.15" fill="#333" textLength="40.37" lengthAdjust="spacingAndGlyphs">X:要交換</text>
<text x="513.25" y="791.90" font-size="10.50" stroke="#333" stroke-width="0.15" fill="#333" textLength="56.15" lengthAdjust="spacingAndGlyphs">内・外装評価</text>
<text x="577.68" y="791.90" font-size="10.50" stroke="#333" stroke-width="0.15" fill="#333" textLength="53.60" lengthAdjust="spacingAndGlyphs">5段階ﾗﾝｸ順</text>
<text x="631.42" y="791.90" font-size="10.50" stroke="#333" stroke-width="0.15" fill="#333" textLength="51.17" lengthAdjust="spacingAndGlyphs">(A・B・C・D・E)</text>
<text x="689.85" y="791.90" font-size="10.50" stroke="#333" stroke-width="0.15" fill="#333" textLength="4.96" lengthAdjust="spacingAndGlyphs">2</text>
<text x="479.02" y="416.25" font-size="17.86" font-weight="bold" fill="#111" textLength="20.34" lengthAdjust="spacingAndGlyphs">A2</text>
<text x="703.27" y="416.25" font-size="18.12" font-weight="bold" fill="#111" textLength="20.62" lengthAdjust="spacingAndGlyphs">A4</text>
<text x="467.00" y="463.75" font-size="16.79" font-weight="bold" fill="#111" textLength="23.63" lengthAdjust="spacingAndGlyphs">W2</text>
<text x="485.76" y="505.50" font-size="17.03" font-weight="bold" fill="#111" textLength="20.96" lengthAdjust="spacingAndGlyphs">A1</text>
<text x="547.02" y="486.75" font-size="17.03" font-weight="bold" fill="#111" textLength="20.43" lengthAdjust="spacingAndGlyphs">A1</text>
<text x="635.86" y="487.00" font-size="18.12" font-weight="bold" fill="#111" textLength="20.86" lengthAdjust="spacingAndGlyphs">B1</text>
<text x="696.53" y="505.50" font-size="17.03" font-weight="bold" fill="#111" textLength="20.17" lengthAdjust="spacingAndGlyphs">A1</text>
<text x="626.28" y="532.62" font-size="18.03" font-weight="bold" fill="#111" textLength="12.13" lengthAdjust="spacingAndGlyphs">G</text>
<text x="467.00" y="542.00" font-size="17.14" font-weight="bold" fill="#111" textLength="23.63" lengthAdjust="spacingAndGlyphs">W2</text>
<text x="467.00" y="566.25" font-size="16.79" font-weight="bold" fill="#111" textLength="21.13" lengthAdjust="spacingAndGlyphs">A2</text>
<text x="715.02" y="566.25" font-size="17.03" font-weight="bold" fill="#111" textLength="20.43" lengthAdjust="spacingAndGlyphs">A1</text>
<text x="467.02" y="601.25" font-size="18.12" font-weight="bold" fill="#111" textLength="20.43" lengthAdjust="spacingAndGlyphs">A1</text>
<text x="715.02" y="627.00" font-size="18.12" font-weight="bold" fill="#111" textLength="20.43" lengthAdjust="spacingAndGlyphs">A1</text>
<text x="552.02" y="672.00" font-size="17.86" font-weight="bold" fill="#111" textLength="20.60" lengthAdjust="spacingAndGlyphs">A2</text>
<text x="629.50" y="672.00" font-size="17.14" font-weight="bold" fill="#111" textLength="24.91" lengthAdjust="spacingAndGlyphs">W2</text>
<text x="749.02" y="660.17" font-size="16.54" font-weight="bold" fill="#111" textLength="11.49" lengthAdjust="spacingAndGlyphs">A</text>
<text x="700.76" y="691.25" font-size="17.03" font-weight="bold" fill="#111" textLength="20.96" lengthAdjust="spacingAndGlyphs">A1</text>
<text x="480.85" y="744.82" font-size="17.61" font-weight="bold" fill="#111" textLength="21.03" lengthAdjust="spacingAndGlyphs">B3</text>
<text x="703.60" y="746.25" font-size="19.20" font-weight="bold" fill="#111" textLength="18.76" lengthAdjust="spacingAndGlyphs">X1</text>
<text x="424.16" y="453.60" font-size="14.79" font-weight="bold" fill="#111" textLength="9.46" lengthAdjust="spacingAndGlyphs">3</text>
<text x="769.62" y="453.60" font-size="14.79" font-weight="bold" fill="#111" textLength="10.57" lengthAdjust="spacingAndGlyphs">3</text>
<text x="424.16" y="697.32" font-size="17.61" font-weight="bold" fill="#111" textLength="9.46" lengthAdjust="spacingAndGlyphs">3</text>
<text x="770.14" y="697.32" font-size="17.61" font-weight="bold" fill="#111" textLength="10.01" lengthAdjust="spacingAndGlyphs">3</text>
<text x="433.62" y="772.00" font-size="19.20" font-weight="bold" fill="#111" textLength="7.77" lengthAdjust="spacingAndGlyphs">T</text>
<text x="410.77" y="451.82" font-size="12.77" stroke="#333" stroke-width="0.15" fill="#333" textLength="4.86" lengthAdjust="spacingAndGlyphs">[</text>
<text x="442.31" y="451.82" font-size="12.77" stroke="#333" stroke-width="0.15" fill="#333" textLength="5.21" lengthAdjust="spacingAndGlyphs">]</text>
<text x="757.61" y="451.82" font-size="12.77" stroke="#333" stroke-width="0.15" fill="#333" textLength="4.52" lengthAdjust="spacingAndGlyphs">[</text>
<text x="789.31" y="451.82" font-size="12.77" stroke="#333" stroke-width="0.15" fill="#333" textLength="5.21" lengthAdjust="spacingAndGlyphs">]</text>
<text x="410.77" y="694.71" font-size="13.30" stroke="#333" stroke-width="0.15" fill="#333" textLength="4.86" lengthAdjust="spacingAndGlyphs">[</text>
<text x="442.31" y="694.71" font-size="13.30" stroke="#333" stroke-width="0.15" fill="#333" textLength="5.21" lengthAdjust="spacingAndGlyphs">]</text>
<text x="757.61" y="694.71" font-size="13.30" stroke="#333" stroke-width="0.15" fill="#333" textLength="4.52" lengthAdjust="spacingAndGlyphs">[</text>
<text x="789.31" y="694.71" font-size="13.30" stroke="#333" stroke-width="0.15" fill="#333" textLength="5.21" lengthAdjust="spacingAndGlyphs">]</text>
<text x="418.27" y="769.26" font-size="15.43" stroke="#333" stroke-width="0.15" fill="#333" textLength="4.86" lengthAdjust="spacingAndGlyphs">[</text>
<text x="449.81" y="769.26" font-size="15.43" stroke="#333" stroke-width="0.15" fill="#333" textLength="5.21" lengthAdjust="spacingAndGlyphs">]</text>
</svg>
</body></html>
